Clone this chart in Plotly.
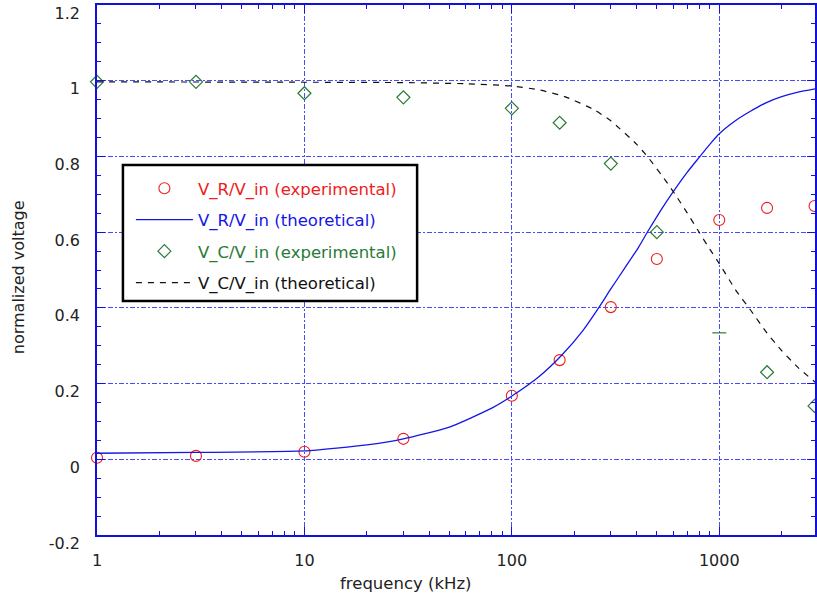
import plotly.graph_objects as go

# ---------------- data ----------------
freq_exp = [1, 3, 10, 30, 100, 170, 300, 500, 1000, 1700, 2880]
vr_exp = [0.004, 0.009, 0.020, 0.054, 0.168, 0.262, 0.402, 0.529, 0.632, 0.664, 0.669]
vc_exp = [0.997, 0.997, 0.967, 0.956, 0.927, 0.889, 0.781, 0.600, 0.334, 0.230, 0.141]
vc_exp_symbols = ["diamond-open"] * 8 + ["line-ew-open"] + ["diamond-open"] * 2

freq_vr_th = [1, 3, 10, 20, 30, 50, 80, 100, 135, 172, 220, 262, 300, 350, 408, 456,
              530, 600, 700, 793, 900, 1000, 1200, 1400, 1700, 2000, 2400, 3000]
vr_th = [0.016, 0.018, 0.022, 0.038, 0.054, 0.085, 0.135, 0.167, 0.218, 0.272, 0.340,
         0.400, 0.450, 0.505, 0.560, 0.605, 0.663, 0.707, 0.758, 0.795, 0.832, 0.860,
         0.895, 0.918, 0.943, 0.958, 0.970, 0.980]

freq_vc_th = [1, 10, 30, 60, 100, 135, 180, 250, 300, 400, 456, 550, 614, 700, 793,
              900, 1000, 1200, 1420, 1700, 2000, 2400, 3000]
vc_th = [0.997, 0.996, 0.995, 0.992, 0.986, 0.976, 0.958, 0.923, 0.894, 0.832, 0.796,
         0.737, 0.699, 0.651, 0.603, 0.555, 0.517, 0.447, 0.393, 0.333, 0.287, 0.242, 0.197]

x_tickvals = [1, 10, 100, 1000]
x_ticktext = ["1", "10", "100", "1000"]
x_minor_vals = [m * d for d in (1, 10, 100, 1000) for m in range(2, 10)]
y_tickvals = [-0.2, 0, 0.2, 0.4, 0.6, 0.8, 1.0, 1.2]
y_ticktext = ["-0.2", "0", "0.2", "0.4", "0.6", "0.8", "1", "1.2"]

names = ["V_R/V_in (experimental)", "V_R/V_in (theoretical)",
         "V_C/V_in (experimental)", "V_C/V_in (theoretical)"]

# ---------------- styling ----------------
FONT = "DejaVu Sans"
AXIS_BLUE = "#1010e0"
GRID_BLUE = "#4a4aff"
RED = "#ee1c1c"
BLUE = "#1515e6"
GREEN = "#2a7a36"
BLACK = "#111111"
TXT = "#222222"

W_PLOT, H_PLOT = 720, 530
L, T = 97, 5


def px_x(p):
    return (p - L) / W_PLOT


def px_y(p):
    return (T + H_PLOT - p) / H_PLOT


fig = go.Figure()

fig.add_trace(go.Scatter(
    x=freq_exp, y=vr_exp, mode="markers", legendgroup="a",
    name=f"<span style='color:{RED}'>{names[0]}</span>",
    marker=dict(symbol="circle-open", size=11, color=RED, line=dict(width=1.1, color=RED)),
    cliponaxis=False))

fig.add_trace(go.Scatter(
    x=freq_vr_th, y=vr_th, mode="lines", legendgroup="b",
    name=f"<span style='color:{BLUE}'>{names[1]}</span>",
    line=dict(color=BLUE, width=1.3, shape="spline", smoothing=0.5)))

fig.add_trace(go.Scatter(
    x=freq_exp, y=vc_exp, mode="markers", legendgroup="c",
    name=f"<span style='color:{GREEN}'>{names[2]}</span>",
    marker=dict(symbol=vc_exp_symbols, size=10, color=GREEN, line=dict(width=1.2, color=GREEN)),
    cliponaxis=False))

fig.add_trace(go.Scatter(
    x=freq_vc_th, y=vc_th, mode="lines", legendgroup="d",
    name=f"<span style='color:{BLACK}'>{names[3]}</span>",
    line=dict(color=BLACK, width=1.2, dash="6px,6px", shape="spline", smoothing=0.5)))

fig.update_layout(
    width=817, height=603,
    margin=dict(l=L, r=0, t=T, b=68),
    paper_bgcolor="white", plot_bgcolor="white",
    font=dict(family=FONT, size=16, color=TXT),
    showlegend=True,
    legend=dict(
        x=px_x(131), xanchor="left",
        y=px_y(171), yanchor="top",
        bgcolor="rgba(0,0,0,0)", borderwidth=0,
        font=dict(family=FONT, size=16.5),
        itemwidth=57, tracegroupgap=7,
    ),
    shapes=[dict(type="rect", xref="paper", yref="paper",
                 x0=px_x(123), x1=px_x(418), y0=px_y(301), y1=px_y(165),
                 fillcolor="white", line=dict(color="black", width=2.5), layer="above")],
    xaxis=dict(
        type="log", range=[0, 3.4615],
        showline=True, linecolor=AXIS_BLUE, linewidth=1.5, mirror="allticks",
        ticks="inside", ticklen=8, tickwidth=1, tickcolor=AXIS_BLUE,
        tickvals=x_tickvals, ticktext=x_ticktext, ticklabelstandoff=10,
        showgrid=True, gridcolor=GRID_BLUE, gridwidth=1.2, griddash="5px,2px,2px,2px",
        minor=dict(ticks="inside", ticklen=4, tickcolor=AXIS_BLUE, tickvals=x_minor_vals,
                   showgrid=False),
        zeroline=False, tickfont=dict(family=FONT, size=16, color=TXT),
    ),
    yaxis=dict(
        range=[-0.2, 1.2],
        showline=True, linecolor=AXIS_BLUE, linewidth=1.5, mirror="allticks",
        ticks="inside", ticklen=8, tickwidth=1, tickcolor=AXIS_BLUE,
        tickvals=y_tickvals, ticktext=y_ticktext,
        ticklabelshift=8, ticklabelstandoff=12, ticklabeloverflow="allow",
        showgrid=True, gridcolor=GRID_BLUE, gridwidth=1.2, griddash="5px,2px,2px,2px",
        minor=dict(ticks="inside", ticklen=4, tickcolor=AXIS_BLUE, dtick=0.05, tick0=-0.2,
                   showgrid=False),
        zeroline=False, tickfont=dict(family=FONT, size=16, color=TXT),
    ),
    annotations=[
        dict(text="frequency (kHz)", xref="paper", yref="paper",
             x=px_x(407), y=px_y(583), xanchor="center", yanchor="middle",
             showarrow=False, font=dict(family=FONT, size=16.5, color=TXT)),
        dict(text="normalized voltage", xref="paper", yref="paper",
             x=px_x(18), y=px_y(277), xanchor="center", yanchor="middle",
             textangle=-90, showarrow=False, font=dict(family=FONT, size=16, color=TXT)),
    ],
)

fig.write_html("out.html")
